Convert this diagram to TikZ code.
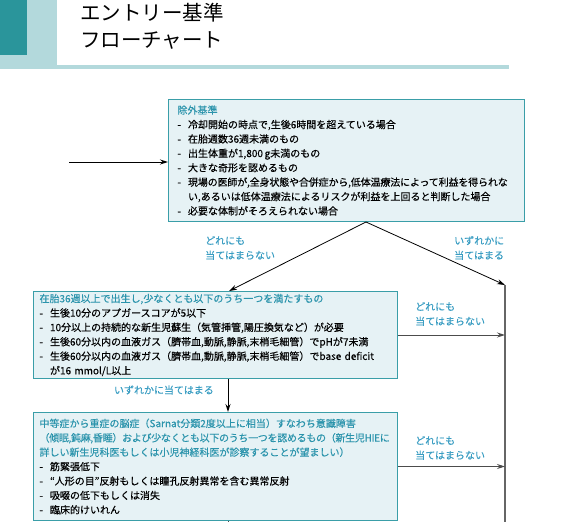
\documentclass[tikz,border=0pt]{standalone}
\usepackage{fontspec}
\usetikzlibrary{arrows.meta}
\newfontfamily\jpfont[FakeBold=0.3]{Noto Sans CJK JP}
\newfontfamily\jptitle{Noto Sans CJK JP}
\definecolor{darkteal}{HTML}{2A959B}
\definecolor{lightteal}{HTML}{B3D9DC}
\definecolor{boxfill}{HTML}{E6F2F5}
\definecolor{boxline}{HTML}{3A9EA8}
\definecolor{headtxt}{HTML}{2B94AC}
\definecolor{labtxt}{HTML}{3A9DC2}
\newcommand{\itm}{\makebox[10.5pt][l]{-}}
\newcommand{\hang}{\hspace*{10.5pt}}
\newcommand{\hd}[1]{{\color{headtxt}#1}}

\begin{document}
\begin{tikzpicture}[x=1pt,y=-1pt,>={Stealth[length=8pt,width=5pt]},
  crit/.style={draw=boxline,line width=1pt,fill=boxfill,anchor=north west,align=left,
    font=\jpfont\fontsize{10}{14.4}\selectfont,inner ysep=0pt},
  lab/.style={text=labtxt,align=left,anchor=west,inner sep=0pt,
    font=\jpfont\fontsize{10}{14.6}\selectfont},
  flow/.style={->,line width=0.9pt,draw=black!70}]
\useasboundingbox (0,0) rectangle (567,522);
% header
\fill[lightteal] (0,0) rectangle (57,69); \fill[lightteal] (0,65) rectangle (509,69);
\fill[darkteal] (0,0) rectangle (27,55);
\node[anchor=west,inner sep=0pt,font=\jptitle\fontsize{20.5}{24}\selectfont] (title1) at (80,13) {エントリー基準};
\node[anchor=west,inner sep=0pt,font=\jptitle\fontsize{20.5}{24}\selectfont] (title2) at (80,40) {フローチャート};
% criteria boxes
\node[crit,text width=338pt,inner xsep=9pt,minimum height=122pt] (excl) at (168,99) {\hd{除外基準}\\
\itm 冷却開始の時点で,生後6時間を超えている場合\\
\itm 在胎週数36週未満のもの\\
\itm 出生体重が1,800\,g未満のもの\\
\itm 大きな奇形を認めるもの\\
\itm {\addfontfeature{LetterSpace=-1.5}現場の医師が,全身状態や合併症から,低体温療法によって利益を得られな}\\
\hang い,あるいは低体温療法によるリスクが利益を上回ると判断した場合\\
\itm 必要な体制がそろえられない場合};
\node[crit,text width=352pt,inner xsep=6pt,minimum height=87pt] (entry) at (33,291) {\hd{在胎36週以上で出生し,少なくとも以下のうち一つを満たすもの}\\
\itm 生後10分のアプガースコアが5以下\\
\itm 10分以上の持続的な新生児蘇生（気管挿管,陽圧換気など）が必要\\
\itm 生後60分以内の血液ガス（臍帯血,動脈,静脈,末梢毛細管）でpHが7未満\\
\itm 生後60分以内の血液ガス（臍帯血,動脈,静脈,末梢毛細管）でbase deficit\\
\hang が16 mmol/L以上};
\node[crit,text width=352pt,inner xsep=6pt,minimum height=108pt] (brain) at (33,412) {\hd{中等症から重症の脳症（Sarnat分類2度以上に相当）すなわち意識障害}\\
\hd{\addfontfeature{LetterSpace=-3}（傾眠,鈍麻,昏睡）および少なくとも以下のうち一つを認めるもの（新生児HIEに}\\
\hd{詳しい新生児科医もしくは小児神経科医が診察することが望ましい）}\\
\itm 筋緊張低下\\
\itm “人形の目”反射もしくは瞳孔反射異常を含む異常反射\\
\itm 吸啜の低下もしくは消失\\
\itm 臨床的けいれん};
% connectors
\coordinate (start) at (69,162);
\coordinate (split) at (366,0 |- excl.south);
\coordinate (rtop) at (505,285); \coordinate (rbot) at (505,522);
\coordinate (down) at (228,522);
\draw[->,line width=0.9pt] (start) -- (start -| excl.west);
\draw[->,line width=0.8pt] (split) -- (229,0 |- entry.north);
\draw[->,line width=0.8pt] (split) -- (rtop);
\draw[line width=1.2pt,draw=black!60] (rtop) -- (rbot);
\draw[flow] (entry.east) -- (entry.east -| rtop);
\draw[flow] (brain.east) -- (brain.east -| rtop);
\draw[->,line width=0.9pt] (228,0 |- entry.south) -- (228,0 |- brain.north);
\draw[line width=0.9pt,draw=black!70] (228,0 |- brain.south) -- (down);
% labels
\node[lab] (nomatch1) at (205,248) {どれにも\\当てはまらない};
\node[lab] (anymatch1) at (454,248) {いずれかに\\当てはまる};
\node[lab] (nomatch2) at (415,314) {どれにも\\当てはまらない};
\node[lab,anchor=east] (anymatch2) at (214,390) {いずれかに当てはまる};
\node[lab] (nomatch3) at (415,448) {どれにも\\当てはまらない};
\end{tikzpicture}
\end{document}
